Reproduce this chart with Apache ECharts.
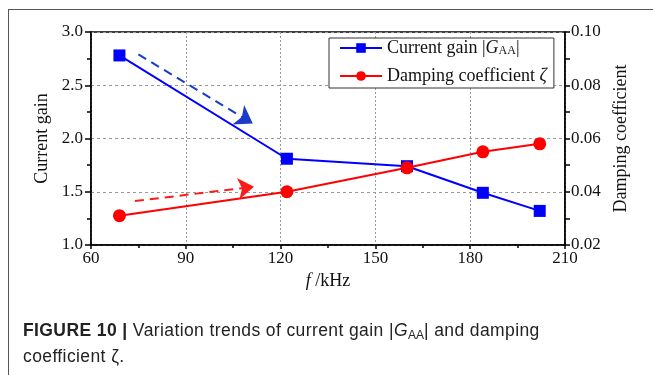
<!DOCTYPE html>
<html>
<head>
<meta charset="utf-8">
<script src="https://cdn.jsdelivr.net/npm/echarts@6/dist/echarts.min.js"></script>
<style>
  html, body { margin: 0; padding: 0; background: #fff; }
  #wrap { position: relative; width: 653px; height: 375px; overflow: hidden; }
  #frame { position: absolute; left: 8px; top: 9px; width: 700px; height: 400px;
           border-left: 1px solid #555; border-top: 1px solid #555; }
  #main { position: absolute; left: 0; top: 0; width: 653px; height: 375px; }
  #caption { position: absolute; left: 23px; top: 320px; font-family: "Liberation Sans", Arial, sans-serif;
             font-size: 17.5px; letter-spacing: 0.4px; line-height: 21px; color: #222; white-space: nowrap; }
  #caption sub { font-size: 12px; vertical-align: -3px; letter-spacing: 0; }
</style>
</head>
<body>
<div id="wrap">
  <div id="frame"></div>
  <div id="main"></div>
  <div id="caption"><b>FIGURE 10 |</b> Variation trends of current gain |<i>G</i><sub>AA</sub>| and damping<br>coefficient ζ.</div>
</div>
<script>
// 频率 (kHz)
var freq = [69, 122, 160, 184, 202];
// 电流增益 |G_AA|
var gain = [2.78, 1.81, 1.74, 1.49, 1.32];
// 阻尼系数 ζ
var damping = [0.031, 0.040, 0.049, 0.055, 0.058];
// 趋势箭头 (起点, 终点)
var gainArrow = [[75, 2.79], [111.2, 2.14]];
var dampArrow = [[73.9, 0.0365], [111.6, 0.0419]];

var myChart = echarts.init(document.getElementById("main"));
var serif = "Liberation Serif";

function pairs(xs, ys) {
	var out = [];
	for (var i = 0; i < xs.length; i++) out.push([xs[i], ys[i]]);
	return out;
}

var option = {
	animation: false,
	textStyle: { fontFamily: serif },
	grid: {
		left: 91, right: 88, top: 32, bottom: 130,
		show: true, borderColor: '#000', borderWidth: 1.5
	},
	legend: {
		orient: 'vertical',
		left: 329, top: 38,
		padding: [1, 7, 3, 10],
		itemGap: 10,
		itemWidth: 42, itemHeight: 12,
		backgroundColor: '#fff',
		borderColor: '#333', borderWidth: 1,
		textStyle: {
			fontFamily: serif, fontSize: 18, color: '#111', lineHeight: 18,
			rich: {
				n: { fontFamily: serif, fontSize: 18, color: '#111' },
				i: { fontFamily: serif, fontSize: 18, fontStyle: 'italic', color: '#111' },
				s: { fontFamily: serif, fontSize: 12, color: '#111', verticalAlign: 'bottom', padding: [7, 0, 0, 0] }
			}
		},
		formatter: function (name) {
			if (name === 'gain') return '{n|Current gain |}{i|G}{s|AA}{n||}';
			return '{n|Damping coefficient }{i|ζ}';
		},
		data: ['gain', 'damping']
	},
	xAxis: {
		type: 'value', min: 60, max: 210, interval: 30,
		name: '{i|f} /kHz', nameLocation: 'middle', nameGap: 22,
		nameTextStyle: {
			fontFamily: serif, fontSize: 18, color: '#111',
			rich: { i: { fontFamily: serif, fontSize: 18, fontStyle: 'italic', color: '#111' } }
		},
		axisLine: { lineStyle: { color: '#000', width: 1.5 } },
		axisTick: { length: 4, lineStyle: { color: '#000', width: 1.5 } },
		minorTick: { show: true, splitNumber: 2, length: 3, lineStyle: { color: '#000', width: 1.5 } },
		splitLine: { show: true, lineStyle: { color: '#999', type: [2, 2], width: 1 } },
		axisLabel: { fontFamily: serif, fontSize: 17, color: '#111', margin: 5 }
	},
	yAxis: [{
		type: 'value', min: 1, max: 3, interval: 0.5,
		name: 'Current gain', nameLocation: 'middle', nameGap: 37,
		nameTextStyle: { fontFamily: serif, fontSize: 18, color: '#111' },
		axisLine: { show: true, lineStyle: { color: '#000', width: 1.5 } },
		axisTick: { show: true, length: 6, lineStyle: { color: '#000', width: 1.5 } },
		minorTick: { show: true, splitNumber: 2, length: 4, lineStyle: { color: '#000', width: 1.5 } },
		splitLine: { show: true, lineStyle: { color: '#999', type: [3, 3], width: 1 } },
		axisLabel: { fontFamily: serif, fontSize: 17, color: '#111', margin: 8,
			formatter: function (v) { return v.toFixed(1); } }
	}, {
		type: 'value', min: 0.02, max: 0.10, interval: 0.02, position: 'right',
		name: 'Damping coefficient', nameLocation: 'middle', nameGap: 47,
		nameTextStyle: { fontFamily: serif, fontSize: 18, color: '#111' },
		axisLine: { show: true, lineStyle: { color: '#000', width: 1.5 } },
		axisTick: { show: true, length: 5, lineStyle: { color: '#000', width: 1.5 } },
		minorTick: { show: true, splitNumber: 2, length: 5, lineStyle: { color: '#000', width: 1.5 } },
		splitLine: { show: false },
		axisLabel: { fontFamily: serif, fontSize: 17, color: '#111', margin: 6,
			formatter: function (v) { return v.toFixed(2); } }
	}],
	series: [{
		name: 'gain', type: 'line',
		data: pairs(freq, gain),
		color: '#0000ff',
		symbol: 'rect', symbolSize: 12,
		lineStyle: { width: 2, color: '#0000ff' },
		z: 3,
		markLine: {
			silent: true, symbol: ['none', 'arrow'], symbolSize: 17,
			label: { show: false },
			lineStyle: { color: '#1a3cc8', type: [9, 6], width: 2 },
			data: [[{ coord: gainArrow[0] }, { coord: gainArrow[1] }]]
		}
	}, {
		name: 'damping', type: 'line', yAxisIndex: 1,
		data: pairs(freq, damping),
		color: '#ff0000',
		symbol: 'circle', symbolSize: 13,
		lineStyle: { width: 2, color: '#ff0000' },
		z: 4,
		markLine: {
			silent: true, symbol: ['none', 'arrow'], symbolSize: 16,
			label: { show: false },
			lineStyle: { color: '#ff1a1a', type: [9, 6], width: 2 },
			data: [[{ coord: dampArrow[0] }, { coord: dampArrow[1] }]]
		}
	}]
};

myChart.setOption(option);
</script>
</body>
</html>
